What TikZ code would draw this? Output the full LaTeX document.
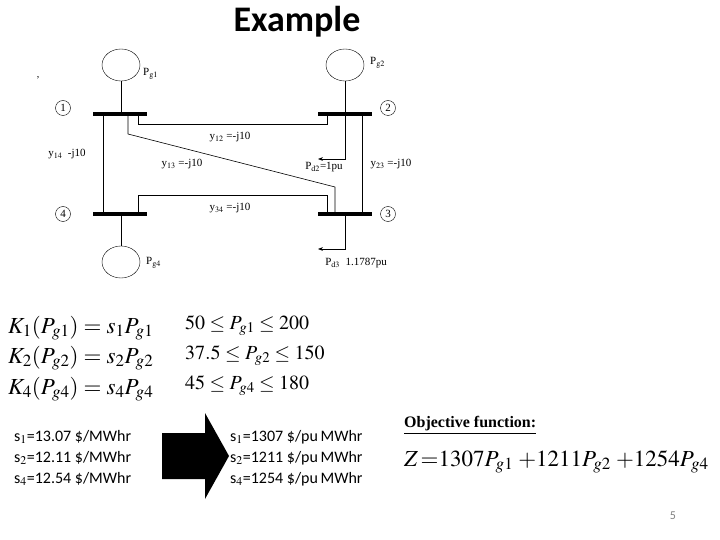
\documentclass[tikz,border=0pt]{standalone}
\usepackage[no-math]{fontspec}
\usepackage{mathptmx}
\setmainfont{Liberation Serif}
\newfontfamily\calfnt{Carlito}
\usetikzlibrary{arrows.meta,shapes.geometric}
\begin{document}
\begin{tikzpicture}[x=1pt,y=-1pt,
  bus/.style={line width=4pt},
  ln/.style={line width=0.6pt},
  gen/.style={draw,ellipse,minimum width=38pt,minimum height=32pt,inner sep=0pt},
  num/.style={draw,circle,inner sep=1pt,minimum size=15pt,font=\fontsize{11}{11}\selectfont},
  lbl/.style={font=\fontsize{11}{12}\selectfont,inner sep=1pt},
  st/.style={font=\calfnt\fontsize{16}{19}\selectfont,anchor=west,inner sep=0pt},
  eq/.style={font=\fontsize{23}{26}\selectfont,anchor=west,inner sep=0pt}]
\useasboundingbox (0,0) rectangle (720,540);
\node[font=\calfnt\bfseries\fontsize{36}{40}\selectfont] (title) at (297,22) {Example};
\node (comma) at (38,78) {,};
% buses
\draw[bus] (93,114) -- (147,114);
\draw[bus] (318,114) -- (372,114);
\draw[bus] (93,214) -- (147,214);
\draw[bus] (318,214) -- (372,214);
\node[gen] (g1) at (121,65) {};
\node[gen] (g2) at (345,65) {};
\node[gen] (g4) at (121,262) {};
\draw[ln] (g1.south) -- (121,114);
\draw[ln] (g2.south) -- (345,114);
\draw[ln] (g4.north) -- (121,214);
\draw[ln] (103,114) -- (103,214);
\draw[ln] (362,114) -- (362,214);
\draw[ln] (138,114) -- (138,124) -- (327,124) -- (327,114);
\draw[ln] (128,114) -- (128,134) -- (335,187) -- (335,214);
\draw[ln] (138,214) -- (138,195) -- (327,195) -- (327,214);
\draw[ln,-{Stealth[length=5pt]}] (345,114) -- (345,159) -- (318,159);
\draw[ln,-{Stealth[length=5pt]}] (345,214) -- (345,249) -- (318,249);
\node[num] (n1) at (63,108) {1};
\node[num] (n2) at (388,108) {2};
\node[num] (n4) at (63,214) {4};
\node[num] (n3) at (388,214) {3};
\node[lbl,anchor=west] (pg1) at (142,74) {P$_{\mathrm{g1}}$};
\node[lbl,anchor=west] (pg2) at (369,63) {P$_{\mathrm{g2}}$};
\node[lbl,anchor=west] (pg4) at (145,263) {P$_{\mathrm{g4}}$};
\node[lbl] (y12) at (230,137) {y$_{12}$ =-j10};
\node[lbl] (y13) at (182,164) {y$_{13}$ =-j10};
\node[lbl] (y14) at (67,154) {y$_{14}$\ \ -j10};
\node[lbl] (y23) at (391,164) {y$_{23}$ =-j10};
\node[lbl] (y34) at (230,208) {y$_{34}$ =-j10};
\node[lbl] (pd2) at (324,167) {P$_{\mathrm{d2}}$=1pu};
\node[lbl] (pd3) at (356,263) {P$_{\mathrm{d3}}$\ \ 1.1787pu};
% equations
\node[eq] (k1) at (8,328) {$K_1(P_{g1}) = s_1P_{g1}$};
\node[eq] (k2) at (8,358) {$K_2(P_{g2}) = s_2P_{g2}$};
\node[eq] (k4) at (8,389) {$K_4(P_{g4}) = s_4P_{g4}$};
\node[eq,font=\fontsize{20}{22}\selectfont] (c1) at (185,326) {$50\le P_{g1}\le 200$};
\node[eq,font=\fontsize{20}{22}\selectfont] (c2) at (185,356) {$37.5\le P_{g2}\le 150$};
\node[eq,font=\fontsize{20}{22}\selectfont] (c4) at (185,386) {$45\le P_{g4}\le 180$};
\node[st] (s1) at (14,437) {s$_1$=13.07 \$/MWhr};
\node[st] (s2) at (14,458) {s$_2$=12.11 \$/MWhr};
\node[st] (s4) at (14,479) {s$_4$=12.54 \$/MWhr};
\node[st] (t1) at (230,437) {s$_1$=1307 \$/pu\,MWhr};
\node[st] (t2) at (230,458) {s$_2$=1211 \$/pu\,MWhr};
\node[st] (t4) at (230,479) {s$_4$=1254 \$/pu\,MWhr};
\fill (162,433) -- (205,433) -- (205,413) -- (229,456) -- (205,499) -- (205,479) -- (162,479) -- cycle;
\node[anchor=west,font=\bfseries\fontsize{16}{19}\selectfont,inner sep=0pt] (obj) at (404,425) {\underline{Objective function:}};
\node[eq,font=\fontsize{23}{26}\selectfont] (z) at (404,462) {$Z\,{=}1307P_{g1}\;{+}1211P_{g2}\;{+}1254P_{g4}$};
\node[font=\calfnt\fontsize{12}{14}\selectfont,text=gray] (pg) at (673,516) {5};
\end{tikzpicture}
\end{document}
